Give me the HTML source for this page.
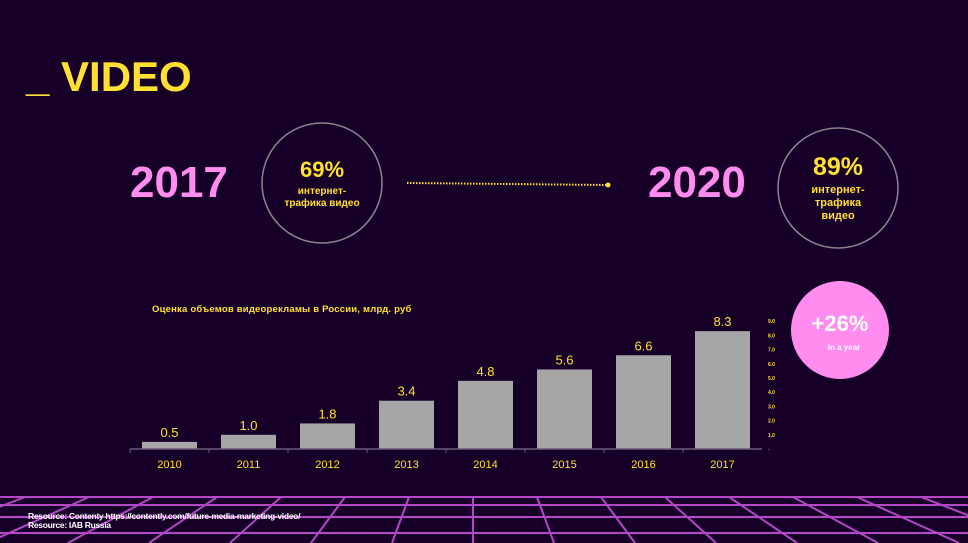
<!DOCTYPE html>
<html><head><meta charset="utf-8"><style>
body{margin:0;width:968px;height:543px;background:#160027;overflow:hidden;position:relative;font-family:"Liberation Sans","Noto Sans CJK SC",sans-serif}
.a{position:absolute;white-space:nowrap}
</style></head><body>
<div class="a" style="left:26px;top:53px;font-size:42px;font-weight:bold;color:#ffe033">_ VIDEO</div>
<div class="a" style="left:130px;top:158px;font-size:44px;font-weight:bold;color:#ff8cee">2017</div>
<div class="a" style="left:648px;top:158px;font-size:44px;font-weight:bold;color:#ff8cee">2020</div>
<svg class="a" style="left:0;top:0" width="968" height="543">
<circle cx="322" cy="183" r="60" fill="none" stroke="#8a8490" stroke-width="1.5"/>
<circle cx="838" cy="188" r="60" fill="none" stroke="#8a8490" stroke-width="1.5"/>
<circle cx="840" cy="330" r="49" fill="#ff8cee"/>
<line x1="407" y1="183" x2="607" y2="185" stroke="#ffe033" stroke-width="2" stroke-dasharray="1.5 1.5"/>
<circle cx="608" cy="185" r="2.5" fill="#ffe033"/>
<g id="grid" stroke="#b347c8" stroke-width="2"></g>
<g id="chart"></g>
</svg>
<div class="a" style="left:262px;top:157px;width:120px;text-align:center;color:#ffe033;font-weight:bold"><div style="font-size:22px">69%</div><div style="font-size:10px;line-height:12px;margin-top:3px">интернет-<br>трафика видео</div></div>
<div class="a" style="left:778px;top:153px;width:120px;text-align:center;color:#ffe033;font-weight:bold"><div style="font-size:25px">89%</div><div style="font-size:11px;line-height:13px;margin-top:2px">интернет-<br>трафика<br>видео</div></div>
<div class="a" style="left:790px;top:311px;width:100px;text-align:center;color:#fff;font-weight:bold"><div style="font-size:22px">+26%</div><div style="font-size:8px;margin-top:6px;padding-left:8px">in a year</div></div>
<div class="a" style="left:152px;top:304px;font-size:9.5px;font-weight:bold;color:#ffe033;letter-spacing:0.2px">Оценка объемов видеорекламы в России, млрд. руб</div>
<div class="a" style="left:28px;top:512px;font-size:8.5px;line-height:9px;font-weight:bold;color:#fff;letter-spacing:-0.3px">Resource: Contenty https://contently.com/future-media-marketing-video/<br>Resource: IAB Russia</div>
<script>
const categories=["2010","2011","2012","2013","2014","2015","2016","2017"];
const values=[0.5,1.0,1.8,3.4,4.8,5.6,6.6,8.3];
const labels=["0.5","1.0","1.8","3.4","4.8","5.6","6.6","8.3"];
const ticks=[1,2,3,4,5,6,7,8,9];
const NS="http://www.w3.org/2000/svg";
const base=449,ppu=14.2,x0=130,step=79,bw=55;
const yS=v=>base-v*ppu, xc=i=>x0+step*i+step/2;
const ch=document.getElementById('chart');
function mk(t,a){const e=document.createElementNS(NS,t);for(const k in a)e.setAttribute(k,a[k]);return e;}
categories.forEach((c,i)=>{
 const r=mk('rect',{x:xc(i)-bw/2,y:yS(values[i]),width:bw,height:values[i]*ppu,fill:'#a6a6a6'});
 
 
 ch.appendChild(r);
 const t=mk('text',{x:xc(i),y:yS(values[i])-5,'text-anchor':'middle','font-size':13,fill:'#ffe033','font-family':'Liberation Sans'});
 t.textContent=labels[i];
 
 
 ch.appendChild(t);
 const l=mk('text',{x:xc(i),y:base+19,'text-anchor':'middle','font-size':11,fill:'#ffe033','font-family':'Liberation Sans'});
 l.textContent=c;
 
 
 ch.appendChild(l);
 ch.appendChild(mk('line',{x1:x0+step*i,x2:x0+step*i,y1:base,y2:base+4,stroke:'#6a5a78'}));
});
const ax=mk('line',{x1:x0,x2:x0+step*8,y1:base,y2:base,stroke:'#6a5a78','stroke-width':1.5});


ch.appendChild(ax);
ticks.forEach(v=>{
 const t=mk('text',{x:768,y:yS(v)+2,'font-size':5,'font-weight':'bold',fill:'#ffe033','font-family':'Liberation Sans'});
 t.textContent=v.toFixed(1);
 
 
 ch.appendChild(t);
});
const z=mk('text',{x:768,y:base+2,'font-size':5,fill:'#ffe033'});z.textContent='-';ch.appendChild(z);
const g=document.getElementById('grid');
[497,505,517,533].forEach(yy=>g.appendChild(mk('line',{x1:0,x2:968,y1:yy,y2:yy})));
const vx=473,vy=324,gTop=497;
for(let k=-16;k<=16;k++){
 const xt=vx+k*64, f=(543-vy)/(gTop-vy);
 g.appendChild(mk('line',{x1:xt,y1:gTop,x2:vx+(xt-vx)*f,y2:543}));
}
</script>
</body></html>
